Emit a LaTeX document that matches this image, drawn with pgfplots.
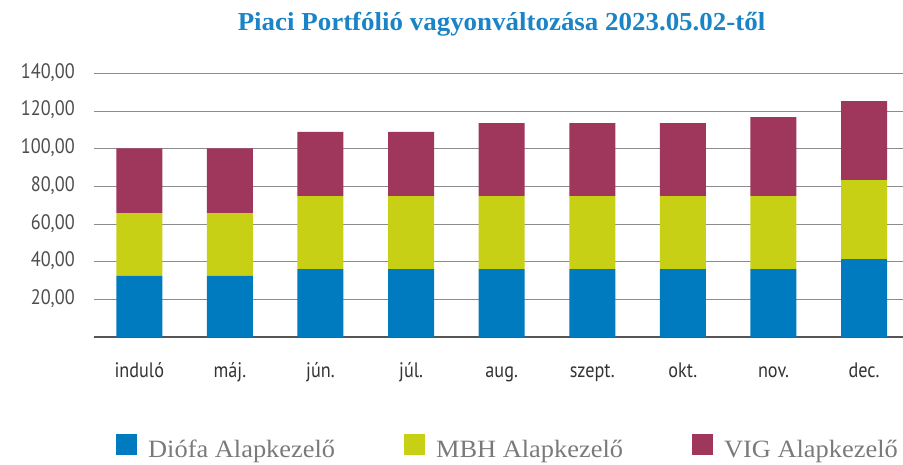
\documentclass[border=0pt]{standalone}
\usepackage{fontspec}
\usepackage{pgfplots}
\pgfplotsset{compat=1.18}
\setmainfont{Liberation Serif}
\newfontfamily\condsans[FakeStretch=0.87]{PT Sans}
\newfontfamily\titlefont[FakeStretch=1.04]{Liberation Serif}
\newfontfamily\legfont[FakeStretch=1.06]{Liberation Serif}
\definecolor{cDiofa}{HTML}{007BC0}
\definecolor{cMBH}{HTML}{C8D016}
\definecolor{cVIG}{HTML}{9F365C}
\definecolor{cTitle}{HTML}{1A84C6}
\definecolor{cTick}{HTML}{4D4D4D}
\definecolor{cGrid}{HTML}{8C8C8C}
\definecolor{cAxis}{HTML}{555555}
\definecolor{cLeg}{HTML}{7A7A7A}
\begin{document}
\begin{tikzpicture}
\begin{axis}[
  at={(94bp,127.7bp)}, anchor=south west,
  width=809bp, height=264bp, scale only axis,
  ybar stacked, bar width=46bp,
  xmin=-0.5, xmax=8.43, ymin=0, ymax=140,
  xtick=data,
  xticklabels={induló,máj.,jún.,júl.,aug.,szept.,okt.,nov.,dec.},
  ytick={20,40,...,140},
  axis y line=left,
  y axis line style={draw=none},
  axis x line*=bottom,
  x axis line style={draw=cAxis, line width=2.2pt, -},
  xtick style={draw=none}, ytick style={draw=none},
  ymajorgrids, grid style={cGrid, line width=1.0pt},
  /pgf/number format/assume math mode=true,
  /pgf/number format/fixed,
  /pgf/number format/fixed zerofill,
  /pgf/number format/precision=2,
  /pgf/number format/use comma,
  ticklabel style={font=\condsans\fontsize{21}{21}\selectfont},
  yticklabel style={text=cTick, anchor=east, inner sep=0pt, xshift=-17bp, yshift=1bp},
  xticklabel style={text=black!80, anchor=base, inner sep=0pt, yshift=-40bp},
  clip=false,
  legend style={at={(0.5105,-0.417)}, anchor=center, draw=none, fill=none,
    legend columns=3, font=\legfont\fontsize{25}{25}\selectfont, text=cLeg,
    inner sep=0pt,
    nodes={inner xsep=0pt},
    /tikz/every odd column/.append style={column sep=11bp},
    /tikz/every even column/.append style={column sep=69bp}},
  legend image code/.code={\fill[#1] (0bp,-6bp) rectangle (21bp,15bp);},
]
\addplot[fill=cDiofa, draw=none] coordinates {(0,32.6) (1,32.6) (2,36.2) (3,36.2) (4,36.2) (5,36.2) (6,36.2) (7,36.2) (8,41.5)};
\addplot[fill=cMBH, draw=none] coordinates {(0,33.3) (1,33.3) (2,38.7) (3,38.7) (4,38.7) (5,38.7) (6,38.7) (7,38.7) (8,41.9)};
\addplot[fill=cVIG, draw=none] coordinates {(0,34.3) (1,34.3) (2,34.0) (3,34.0) (4,38.7) (5,38.7) (6,38.7) (7,41.9) (8,41.9)};
\legend{Diófa Alapkezelő, MBH Alapkezelő, VIG Alapkezelő}
\end{axis}
\node[text=cTitle, anchor=base, inner sep=0pt, font=\titlefont\bfseries\fontsize{26}{26}\selectfont] at (501.5bp,434bp) {Piaci Portfólió vagyonváltozása 2023.05.02-től};
\pgfresetboundingbox
\path (0,0) rectangle (903bp,465bp);
\end{tikzpicture}
\end{document}
